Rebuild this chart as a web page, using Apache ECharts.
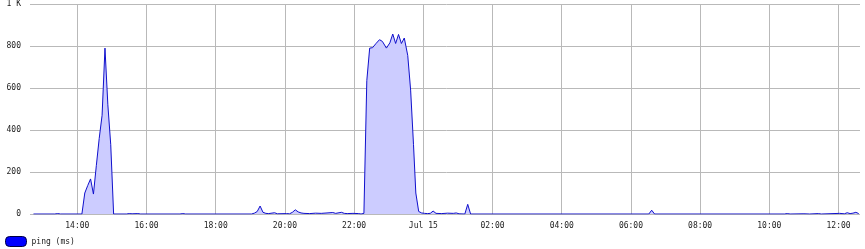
<!DOCTYPE html>
<html><head><meta charset="utf-8">
<script src="https://cdn.jsdelivr.net/npm/echarts@6/dist/echarts.min.js"></script>
<style>html,body{margin:0;padding:0;background:#fff}#c{width:865px;height:249px}</style>
</head><body><div id="c"></div>
<script>
// sample times ("day HH:MM", July) and ping values (ms)
const times = [
  "14 12:44","14 13:21","14 13:26","14 13:31",
  "14 14:08","14 14:13","14 14:18","14 14:23","14 14:28","14 14:33","14 14:38","14 14:43","14 14:48","14 14:53","14 14:58","14 15:03",
  "14 15:25","14 15:30","14 15:35","14 15:45","14 15:50",
  "14 16:58","14 17:03","14 17:08",
  "14 19:02","14 19:07","14 19:12","14 19:17","14 19:22","14 19:27","14 19:32","14 19:42","14 19:47",
  "14 20:03","14 20:08","14 20:13","14 20:18","14 20:23","14 20:28","14 20:33",
  "14 20:43","14 20:53","14 21:03","14 21:13","14 21:23","14 21:28","14 21:38","14 21:43","14 21:48","14 21:58","14 22:08","14 22:12",
  "14 22:17","14 22:22","14 22:27","14 22:32","14 22:38","14 22:44","14 22:49","14 22:56","14 23:02","14 23:07","14 23:12","14 23:17","14 23:22","14 23:27","14 23:33","14 23:38","14 23:43","14 23:47","14 23:52","14 23:57",
  "15 00:02","15 00:07","15 00:12","15 00:17","15 00:22","15 00:32","15 00:42","15 00:52","15 00:57","15 01:02","15 01:12","15 01:17","15 01:22",
  "15 06:31","15 06:36","15 06:41",
  "15 10:26","15 10:31","15 10:36","15 11:00","15 11:10","15 11:25","15 11:30",
  "15 12:02","15 12:10","15 12:15","15 12:20","15 12:25","15 12:30","15 12:35"
];
const pingMs = [
  0,0,2,0,
  0,100,135,167,95,230,360,470,790,520,330,0,
  0,2,1,2,0,
  0,2,0,
  0,4,12,38,8,3,2,6,1,
  2,1,8,20,10,5,3,
  2,4,3,5,7,3,8,3,2,3,2,0,
  3,635,790,792,812,830,822,790,815,857,812,855,812,838,755,590,330,100,12,5,
  3,2,3,14,3,2,4,3,5,1,0,46,0,
  0,18,0,
  0,2,0,1,0,2,0,
  3,1,6,2,4,8,2
];
const xTickHours = [14,16,18,20,22,24,26,28,30,32,34,36];
const yTicks = [0,200,400,600,800,1000];
const seriesName = "ping (ms)";

function toHours(s){
  const parts = s.split(" ");
  const hm = parts[1].split(":").map(Number);
  return (Number(parts[0]) - 14) * 24 + hm[0] + hm[1] / 60;
}
const data = times.map((t, i) => [toHours(t), pingMs[i]]);

const fontFam = "DejaVu Sans Mono";
const gridColor = "#b9b9b9";
const chart = echarts.init(document.getElementById("c"), null, {renderer: "canvas"});
chart.setOption({
  animation: false,
  backgroundColor: "#ffffff",
  grid: {left: 33, right: 5, top: 4, bottom: 35, containLabel: false, outerBoundsMode: "none"},
  legend: {
    left: 5, top: 236, padding: 0,
    itemWidth: 21, itemHeight: 10, itemGap: 10,
    icon: "path://M4,0 H17 A4,4 0 0 1 21,4 V6 A4,4 0 0 1 17,10 H4 A4,4 0 0 1 0,6 V4 A4,4 0 0 1 4,0 Z",
    textStyle: {fontFamily: fontFam, fontSize: 8, color: "#222", padding: [0,0,0,0]},
    data: [{name: seriesName, itemStyle: {color: "#0000ff", borderColor: "#000044", borderWidth: 1}}]
  },
  xAxis: {
    type: "value", min: 12.72, max: 36.62,
    axisLine: {show: false},
    axisTick: {show: false, customValues: xTickHours},
    splitLine: {show: true, lineStyle: {color: gridColor, width: 1}},
    axisLabel: {
      customValues: xTickHours, margin: 8,
      fontFamily: fontFam, fontSize: 8, color: "#222",
      formatter: v => {
        if (Math.round(v) === 24) return "Jul 15";
        const h = Math.round(v) % 24;
        return (h < 10 ? "0" + h : "" + h) + ":00";
      }
    }
  },
  yAxis: {
    type: "value", min: 0, max: 1000, interval: 200,
    axisLine: {show: false},
    axisTick: {show: true, length: 3, lineStyle: {color: gridColor}},
    splitLine: {show: true, lineStyle: {color: gridColor, width: 1}},
    axisLabel: {
      margin: 12, fontFamily: fontFam, fontSize: 8, color: "#222",
      formatter: v => (v === 1000 ? "1 K" : String(v))
    }
  },
  series: [{
    name: seriesName, type: "line", data: data,
    symbol: "none", showSymbol: false,
    itemStyle: {color: "#0000ff"},
    lineStyle: {color: "#1010cc", width: 1},
    areaStyle: {color: "#ccccff", opacity: 1}
  }]
});
</script>
</body></html>
